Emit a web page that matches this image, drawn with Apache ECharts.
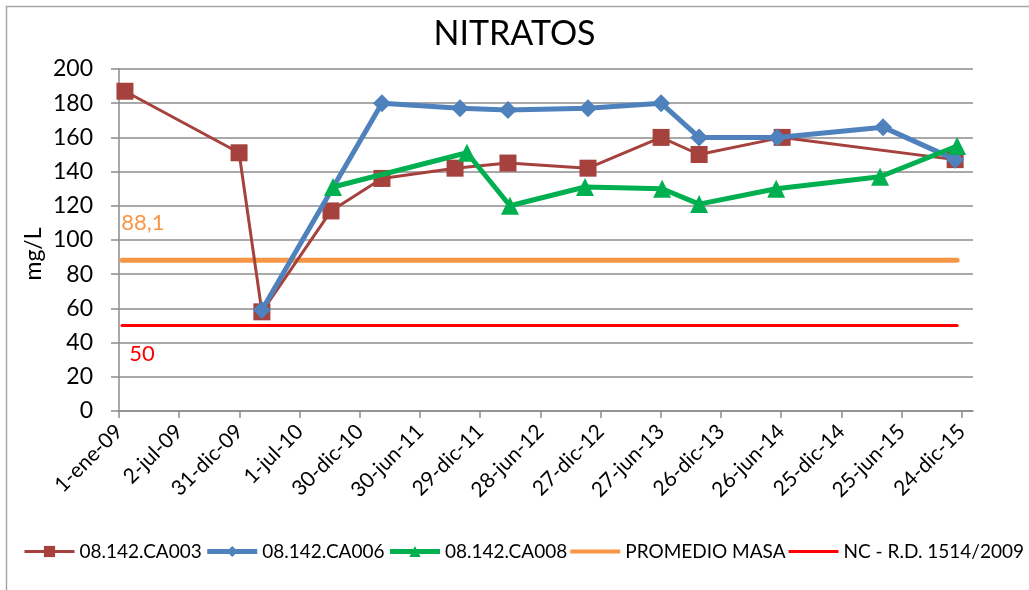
<!DOCTYPE html>
<html>
<head>
<meta charset="utf-8">
<script src="https://cdn.jsdelivr.net/npm/echarts@6/dist/echarts.min.js"></script>
<style>
  html, body { margin: 0; padding: 0; background: #fff; }
  #main { width: 1029px; height: 590px; }
</style>
</head>
<body>
<div id="main"></div>
<script>
"use strict"

// fechas de muestreo y valores (mg/L)
const fechasCA003 = ['2009-01-19', '2009-12-30', '2010-03-09', '2010-10-04', '2011-03-07', '2011-10-14',
                     '2012-03-22', '2012-11-19', '2013-06-28', '2013-10-21', '2014-06-29', '2015-12-04'];
const valoresCA003 = [187, 151, 58, 117, 136, 142, 145, 142, 160, 150, 160, 147];

const fechasCA006 = ['2010-03-09', '2011-03-07', '2011-10-29', '2012-03-22', '2012-11-19', '2013-06-28',
                     '2013-10-21', '2014-06-14', '2015-04-30', '2015-12-04'];
const valoresCA006 = [59, 180, 177, 176, 177, 180, 160, 160, 166, 147];

const fechasCA008 = ['2010-10-10', '2011-11-19', '2012-03-28', '2012-11-10', '2013-07-01', '2013-10-21',
                     '2014-06-11', '2015-04-21', '2015-12-10'];
const valoresCA008 = [131, 151, 120, 131, 130, 121, 130, 137, 155];

const fechasRef = ['2009-01-10', '2015-12-10'];
const promedioMasa = 88.1;
const limiteNC = 50;

const nombres = ['08.142.CA003', '08.142.CA006', '08.142.CA008', 'PROMEDIO MASA', 'NC - R.D. 1514/2009'];
const meses = ['ene', 'feb', 'mar', 'abr', 'may', 'jun', 'jul', 'ago', 'sep', 'oct', 'nov', 'dic'];

// eje x en dias desde 1-ene-09, marcas cada 182 dias como en excel
const origen = Date.UTC(2009, 0, 1);
const DIA = 86400000;
const pasoDias = 182;
const maxDias = 2582;

function aDias(s) {
    var p = s.split('-');
    return Math.round((Date.UTC(+p[0], +p[1] - 1, +p[2]) - origen) / DIA);
}
function etiquetaFecha(v) {
    var d = new Date(origen + v * DIA);
    var yy = String(d.getUTCFullYear() % 100);
    if (yy.length < 2) yy = '0' + yy;
    return d.getUTCDate() + '-' + meses[d.getUTCMonth()] + '-' + yy;
}
function pares(fechas, valores) {
    return fechas.map(function (f, i) { return [aDias(f), valores[i]]; });
}

var marcas = [];
for (var t = 0; t <= maxDias; t += pasoDias) marcas.push(t);

const fuente = 'Lato';
// icono de leyenda: solo una linea gruesa (los puntos M extienden la caja)
const iconoLinea = 'path://M0,0M50,14M0,5L50,5L50,9L0,9Z';
const iconoLineaFina = 'path://M0,0M50,14M0,5.5L50,5.5L50,8.5L0,8.5Z';

var chart = echarts.init(document.getElementById('main'), null, { renderer: 'canvas' });

var option = {
    animation: false,
    textStyle: { fontFamily: fuente },
    graphic: [
        {
            type: 'rect',
            shape: { x: 6.5, y: 6.5, width: 1100, height: 700 },
            style: { fill: 'none', stroke: '#a6a6a6', lineWidth: 1.5 },
            silent: true
        },
        {
            // titulo del eje y
            type: 'text',
            x: 34,
            y: 254,
            rotation: Math.PI / 2,
            style: {
                text: 'mg/L', fontFamily: fuente, fontSize: 23, fill: '#000',
                align: 'center', verticalAlign: 'middle'
            },
            silent: true
        }
    ],
    title: {
        text: 'NITRATOS',
        left: 'center',
        top: 12,
        textStyle: { fontFamily: fuente, fontSize: 34, fontWeight: 'normal', color: '#000' }
    },
    legend: {
        left: 18,
        top: 537,
        width: 1020,
        itemWidth: 50,
        itemHeight: 14,
        itemGap: 3,
        textStyle: { fontFamily: fuente, fontSize: 19, color: '#000' },
        data: [
            { name: nombres[0], lineStyle: { width: 3 } },
            { name: nombres[1], lineStyle: { width: 5 } },
            { name: nombres[2], lineStyle: { width: 5 } },
            { name: nombres[3], icon: iconoLinea, itemStyle: { color: '#f79646' } },
            { name: nombres[4], icon: iconoLineaFina, itemStyle: { color: '#ff0000' } }
        ]
    },
    grid: { left: 119, right: 56, top: 69, bottom: 179 },
    xAxis: {
        type: 'value',
        min: 0,
        max: maxDias,
        interval: pasoDias,
        splitLine: { show: false },
        axisLine: { lineStyle: { color: '#8c8c8c', width: 1.5 } },
        axisTick: { show: true, length: 7, customValues: marcas, lineStyle: { color: '#8c8c8c', width: 1.5 } },
        axisLabel: {
            customValues: marcas,
            rotate: 45,
            fontSize: 21,
            color: '#000',
            margin: 17,
            formatter: etiquetaFecha
        }
    },
    yAxis: {
        type: 'value',
        min: 0,
        max: 200,
        interval: 20,
        axisLine: { show: true, lineStyle: { color: '#8c8c8c', width: 1.5 } },
        axisTick: { show: true, length: 8, lineStyle: { color: '#8c8c8c', width: 1.5 } },
        axisLabel: { fontSize: 23, color: '#000', margin: 26 },
        splitLine: { lineStyle: { color: '#8c8c8c', width: 1.5 } }
    },
    series: [
        {
            name: nombres[0],
            type: 'line',
            data: pares(fechasCA003, valoresCA003),
            symbol: 'rect',
            symbolSize: 17,
            itemStyle: { color: '#a5423d' },
            lineStyle: { color: '#a5423d', width: 3 },
            z: 3
        },
        {
            name: nombres[1],
            type: 'line',
            data: pares(fechasCA006, valoresCA006),
            symbol: 'diamond',
            symbolSize: 18,
            itemStyle: { color: '#4f81bd' },
            lineStyle: { color: '#4f81bd', width: 5 },
            z: 4
        },
        {
            name: nombres[2],
            type: 'line',
            data: pares(fechasCA008, valoresCA008),
            symbol: 'triangle',
            symbolSize: 18,
            itemStyle: { color: '#00b050' },
            lineStyle: { color: '#00b050', width: 5 },
            z: 5
        },
        {
            name: nombres[3],
            type: 'line',
            data: fechasRef.map(function (f, i) {
                return {
                    value: [aDias(f), promedioMasa],
                    label: i === 0 ? {
                        show: true, position: 'top', offset: [21, -21],
                        formatter: '88,1', fontSize: 22, color: '#f79646', fontFamily: fuente
                    } : { show: false }
                };
            }),
            symbol: 'circle',
            symbolSize: 0,
            itemStyle: { color: '#f79646' },
            lineStyle: { color: '#f79646', width: 5, cap: 'round' },
            z: 2
        },
        {
            name: nombres[4],
            type: 'line',
            data: fechasRef.map(function (f, i) {
                return {
                    value: [aDias(f), limiteNC],
                    label: i === 0 ? {
                        show: true, position: 'bottom', offset: [20, 12],
                        formatter: '50', fontSize: 22, color: '#ff0000', fontFamily: fuente
                    } : { show: false }
                };
            }),
            symbol: 'circle',
            symbolSize: 0,
            itemStyle: { color: '#ff0000' },
            lineStyle: { color: '#ff0000', width: 3, cap: 'round' },
            z: 2
        }
    ]
};
chart.setOption(option);
</script>
</body>
</html>
